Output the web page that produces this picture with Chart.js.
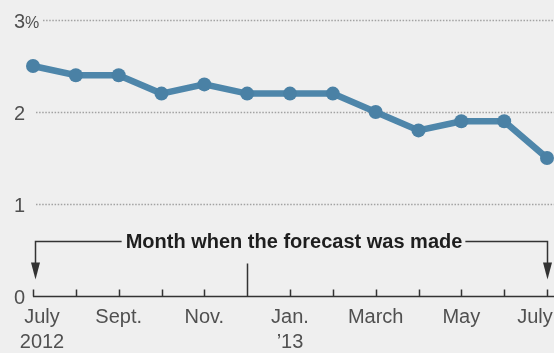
<!DOCTYPE html>
<html>
<head>
<meta charset="utf-8">
<script src="https://cdn.jsdelivr.net/npm/chart.js@4/dist/chart.umd.min.js"></script>
<style>
    html, body { margin: 0; padding: 0; background: #efefef; }
    #wrap { width: 554px; height: 353px; position: relative; }
</style>
</head>
<body>
<div id="wrap"><canvas id="forecastChart"></canvas></div>
<script>
// forecast, percent, by month the forecast was made
const months = ['July', 'Aug.', 'Sept.', 'Oct.', 'Nov.', 'Dec.', 'Jan.', 'Feb.', 'March', 'April', 'May', 'June', 'July'];
const forecast = [2.5, 2.4, 2.4, 2.2, 2.3, 2.2, 2.2, 2.2, 2.0, 1.8, 1.9, 1.9, 1.5];
const monthLabels = ['July', '', 'Sept.', '', 'Nov.', '', 'Jan.', '', 'March', '', 'May', '', 'July'];
const yearLabels = ['2012', '', '', '', '', '', '\u201913', '', '', '', '', '', ''];
const yTicks = [0, 1, 2, 3];
const yTickLabels = ['0', '1', '2', '3'];
const yearBreak = 5;
const noteText = 'Month when the forecast was made';

const lineColor = '#4e86aa';
const inkColor = '#333333';
const labelColor = '#505050';
const font = '"Liberation Sans", Arial, sans-serif';

const wsjAxes = {
    id: 'wsjAxes',
    beforeDatasetsDraw(chart) {
        const { ctx, scales: { x, y } } = chart;
        ctx.save();

        // dotted grid lines + y labels (right-aligned digits, % on the top one)
        ctx.textBaseline = 'alphabetic';
        yTicks.forEach((v, i) => {
            const py = Math.round(y.getPixelForValue(v)) + 0.5;
            ctx.fillStyle = labelColor;
            ctx.font = '20px ' + font;
            ctx.textAlign = 'right';
            ctx.fillText(yTickLabels[i], 25, py + 7);
            if (i === yTicks.length - 1) {
                ctx.textAlign = 'left';
                ctx.font = '16px ' + font;
                ctx.fillText('%', 25, py + 7);
            }
            if (v === 0) return;
            ctx.strokeStyle = '#a2a2a2';
            ctx.lineWidth = 1.5;
            ctx.setLineDash([1.5, 1.6]);
            ctx.beginPath();
            ctx.moveTo(i === yTicks.length - 1 ? 43 : 36, py);
            ctx.lineTo(chart.width, py);
            ctx.stroke();
        });
        ctx.setLineDash([]);

        // zero baseline with month ticks
        const base = Math.round(y.getPixelForValue(0)) + 0.5;
        ctx.strokeStyle = inkColor;
        ctx.lineWidth = 1.5;
        ctx.beginPath();
        ctx.moveTo(x.getPixelForValue(0), base);
        ctx.lineTo(chart.width, base);
        months.forEach((m, i) => {
            const px = Math.round(x.getPixelForValue(i)) + 0.5;
            ctx.moveTo(px, base);
            ctx.lineTo(px, base - (i === yearBreak ? 33 : 7));
        });
        ctx.stroke();

        // month and year labels
        ctx.fillStyle = labelColor;
        ctx.font = '20px ' + font;
        ctx.textAlign = 'center';
        ctx.textBaseline = 'alphabetic';
        monthLabels.forEach((m, i) => {
            if (!m) return;
            let px = x.getPixelForValue(i);
            if (i === 0) px += 9;
            if (i === months.length - 1) px -= 12;
            ctx.fillText(m, px, base + 26);
            if (yearLabels[i]) ctx.fillText(yearLabels[i], px, base + 51);
        });

        // bracket note with arrows at both ends
        const noteY = 241.5;
        const x0 = Math.round(x.getPixelForValue(0)) + 2.5;
        const x1 = Math.round(x.getPixelForValue(months.length - 1)) + 0.5;
        ctx.font = 'bold 20px ' + font;
        ctx.textAlign = 'center';
        ctx.textBaseline = 'middle';
        const tw = ctx.measureText(noteText).width;
        const tx = 294;
        ctx.fillStyle = '#1e1e1e';
        ctx.fillText(noteText, tx, noteY + 1);
        ctx.strokeStyle = inkColor;
        ctx.lineWidth = 1.5;
        ctx.beginPath();
        ctx.moveTo(tx - tw / 2 - 4, noteY);
        ctx.lineTo(x0, noteY);
        ctx.lineTo(x0, base - 30);
        ctx.moveTo(tx + tw / 2 + 3, noteY);
        ctx.lineTo(x1, noteY);
        ctx.lineTo(x1, base - 30);
        ctx.stroke();
        ctx.fillStyle = inkColor;
        [x0, x1].forEach((ax) => {
            ctx.beginPath();
            ctx.moveTo(ax - 4.5, base - 34);
            ctx.lineTo(ax + 4.5, base - 34);
            ctx.lineTo(ax, base - 17);
            ctx.closePath();
            ctx.fill();
        });

        ctx.restore();
    }
};

new Chart(document.getElementById('forecastChart'), {
    type: 'line',
    data: {
        labels: months,
        datasets: [{
            data: forecast,
            borderColor: lineColor,
            backgroundColor: lineColor,
            borderWidth: 6.5,
            pointRadius: 7,
            pointBorderWidth: 0,
            pointBackgroundColor: '#4a81a5',
            tension: 0,
            clip: false
        }]
    },
    options: {
        responsive: true,
        maintainAspectRatio: false,
        animation: false,
        events: [],
        layout: { padding: { left: 33, right: 3, top: 20, bottom: 57 } },
        plugins: { legend: { display: false }, tooltip: { enabled: false } },
        scales: {
            x: { type: 'category', offset: false, display: false },
            y: { min: 0, max: 3, display: false }
        }
    },
    plugins: [wsjAxes]
});
</script>
</body>
</html>
